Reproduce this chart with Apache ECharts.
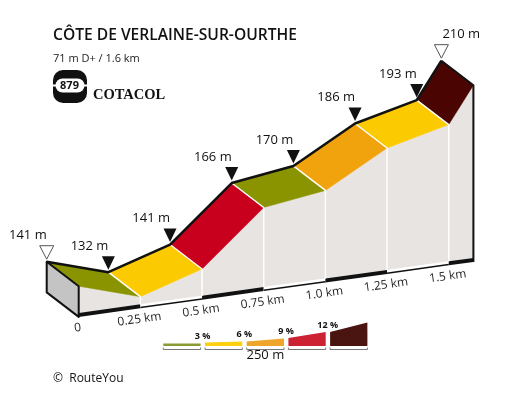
<!DOCTYPE html>
<html><head><meta charset="utf-8">
<script src="https://cdn.jsdelivr.net/npm/echarts@6.0.0/dist/echarts.min.js"></script>
<style>html,body{margin:0;padding:0;background:#fff}#c{width:532px;height:400px}</style>
</head><body><div id="c"></div>
<script>
// ---- data ----
const distances = [0, 0.25, 0.5, 0.75, 1.0, 1.25, 1.5, 1.6];
const elevations = [141, 132, 141, 166, 170, 186, 193, 210];
const segmentClass = [0, 1, 3, 0, 2, 1, 4];
const gradeColors = ['#8a9400', '#fcca00', '#f0a30c', '#c8001e', '#4a0503'];
const legendColors = ['#8b9a33', '#fdd10f', '#eea52a', '#cc2233', '#4a1411'];
const gradeLabels = ['3 %', '6 %', '9 %', '12 %'];
const kmTicks = [0, 0.25, 0.5, 0.75, 1.0, 1.25, 1.5];
const kmTickLabels = ['0', '0.25 km', '0.5 km', '0.75 km', '1.0 km', '1.25 km', '1.5 km'];
const titleText = 'CÔTE DE VERLAINE-SUR-OURTHE';
const subtitleText = '71 m D+ / 1.6 km';
const cotacolNumber = '879';
const cotacolText = 'COTACOL';
const legendScaleLabel = '250 m';
const creditText = '©  RouteYou';

// ---- styles / layout ----
const BASE_ELEV = 126.5;
const DEPTH = [32, 24.5];
const TILT = 0.1394;
const BAND = 4;
const FRONT_FILL = '#e8e4e2';
const SIDE_FILL = '#c4c4c4';
const FONT = '"Open Sans", "Noto Sans", sans-serif';
const LEGEND_WEDGE = [[2.5, 2.5], [3.5, 4.6], [4.6, 7.5], [8, 14], [14, 23.5]];

function P(api, km, elev, front) {
  const p = api.coord([km, elev]);
  const o = api.coord([0, elev]);
  let x = p[0], y = p[1] - TILT * (p[0] - o[0]);
  if (front) { x += DEPTH[0]; y += DEPTH[1]; }
  return [x, y];
}
function up(pt, d) { return [pt[0], pt[1] - d]; }

function renderFaces(params, api) {
  const i = params.dataIndex;
  const k0 = distances[i], k1 = distances[i + 1];
  const e0 = elevations[i], e1 = elevations[i + 1];
  const col = gradeColors[segmentClass[i]];
  const fb0 = P(api, k0, BASE_ELEV, 1), fb1 = P(api, k1, BASE_ELEV, 1);
  const children = [
    {type: 'polygon', shape: {points: [P(api, k0, e0, 1), P(api, k1, e1, 1), up(fb1, BAND), up(fb0, BAND)]},
     style: {fill: FRONT_FILL, stroke: FRONT_FILL, lineWidth: 0.5}},
    {type: 'polygon', shape: {points: [P(api, k0, e0, 0), P(api, k1, e1, 0), P(api, k1, e1, 1), P(api, k0, e0, 1)]},
     style: {fill: col, stroke: col, lineWidth: 0.5}},
    {type: 'polygon', shape: {points: [fb0, fb1, up(fb1, BAND), up(fb0, BAND)]},
     style: {fill: i % 2 === 0 ? '#111' : '#fff'}}
  ];
  if (i % 2 === 1) {
    children.push({type: 'line', shape: {x1: fb0[0], y1: fb0[1] - 0.75, x2: fb1[0], y2: fb1[1] - 0.75},
      style: {stroke: '#111', lineWidth: 1.5}});
  }
  return {type: 'group', children};
}

function renderOverlay(params, api) {
  const n = distances.length;
  const ch = [];
  for (let i = 1; i < n - 1; i++) {
    const b = P(api, distances[i], elevations[i], 0);
    const f = P(api, distances[i], elevations[i], 1);
    const fb = up(P(api, distances[i], BASE_ELEV, 1), BAND);
    ch.push({type: 'polyline', shape: {points: [b, f, fb]}, style: {stroke: '#fff', lineWidth: 1.5, fill: null}});
  }
  const b0 = P(api, distances[0], elevations[0], 0), f0 = P(api, distances[0], elevations[0], 1);
  const bb0 = P(api, distances[0], BASE_ELEV, 0), fb0 = P(api, distances[0], BASE_ELEV, 1);
  ch.push({type: 'polygon', shape: {points: [b0, f0, fb0, bb0]},
    style: {fill: SIDE_FILL, stroke: '#111', lineWidth: 2, lineJoin: 'round'}});
  const ridge = distances.map((d, i) => P(api, d, elevations[i], 0));
  ch.push({type: 'polyline', shape: {points: ridge}, style: {stroke: '#111', lineWidth: 2.5, fill: null, lineJoin: 'round'}});
  const bl = ridge[n - 1], fl = P(api, distances[n - 1], elevations[n - 1], 1), fbl = P(api, distances[n - 1], BASE_ELEV, 1);
  ch.push({type: 'polyline', shape: {points: [bl, fl, fbl]}, style: {stroke: '#111', lineWidth: 2, fill: null, lineJoin: 'round'}});
  for (let i = 0; i < n; i++) {
    const p = ridge[i];
    const endPt = (i === 0 || i === n - 1);
    const hw = endPt ? 7 : 6.5;
    ch.push({type: 'polygon', shape: {points: [[p[0] - hw, p[1] - 16], [p[0] + hw, p[1] - 16], [p[0], p[1] - 2.5]]},
      style: endPt ? {fill: '#fff', stroke: '#555', lineWidth: 1} : {fill: '#111'}});
    ch.push({type: 'text', x: i === n - 1 ? p[0] + 1 : p[0], y: p[1] - 26,
      style: {text: elevations[i] + ' m', fill: '#111', fontSize: 13, fontFamily: FONT,
        align: i === n - 1 ? 'left' : 'right', verticalAlign: 'middle'}});
  }
  const rot = Math.atan(TILT);
  kmTicks.forEach((k, j) => {
    const fb = P(api, k, BASE_ELEV, 1);
    ch.push({type: 'text', x: fb[0] - 1, y: fb[1] + 11, rotation: rot,
      style: {text: kmTickLabels[j], fill: '#222', fontSize: 12, fontFamily: FONT, align: 'center', verticalAlign: 'middle'}});
  });
  return {type: 'group', children: ch};
}

const legendGraphics = [];
const LX = 163.3, LW = 37.3, LSTEP = 41.7, LBOT = 346;
legendColors.forEach((c, k) => {
  const x0 = LX + k * LSTEP, x1 = x0 + LW;
  const h = LEGEND_WEDGE[k];
  legendGraphics.push({type: 'polygon', shape: {points: [[x0, LBOT], [x1, LBOT], [x1, LBOT - h[1]], [x0, LBOT - h[0]]]},
    style: {fill: c}});
  legendGraphics.push({type: 'polyline', shape: {points: [[x0, 347.5], [x0, 349.5], [x1, 349.5], [x1, 347.5]]},
    style: {stroke: '#777', lineWidth: 1, fill: null}});
  if (k < gradeLabels.length) {
    legendGraphics.push({type: 'text', x: x1 + 2, y: LBOT - h[1] - 2.5,
      style: {text: gradeLabels[k], fill: '#111', fontSize: 9, fontWeight: 'bold', fontFamily: FONT,
        align: 'center', verticalAlign: 'bottom'}});
  }
});
legendGraphics.push({type: 'text', x: LX + 2 * LSTEP + LW / 2, y: 355,
  style: {text: legendScaleLabel, fill: '#111', fontSize: 13, fontFamily: FONT, align: 'center', verticalAlign: 'middle'}});

const headerGraphics = [
  {type: 'text', x: 53, y: 36, style: {text: titleText, fill: '#111', fontSize: 15.6, fontWeight: 600, fontFamily: FONT, verticalAlign: 'middle'}},
  {type: 'text', x: 53, y: 58.5, style: {text: subtitleText, fill: '#222', fontSize: 11, fontFamily: FONT, verticalAlign: 'middle'}},
  {type: 'rect', shape: {x: 53, y: 70, width: 34, height: 33, r: 10}, style: {fill: '#111'}},
  {type: 'rect', shape: {x: 55.5, y: 78.5, width: 29, height: 14, r: 7}, style: {fill: '#fff'}},
  {type: 'rect', shape: {x: 53, y: 84.5, width: 3, height: 2}, style: {fill: '#fff'}},
  {type: 'rect', shape: {x: 84, y: 84.5, width: 3, height: 2}, style: {fill: '#fff'}},
  {type: 'text', x: 69.5, y: 85.5, style: {text: cotacolNumber, fill: '#111', fontSize: 11, fontWeight: 'bold', fontFamily: FONT, align: 'center', verticalAlign: 'middle'}},
  {type: 'text', x: 93, y: 95, style: {text: cotacolText, fill: '#111', fontSize: 14.5, fontWeight: 'bold', fontFamily: '"Liberation Serif", serif', verticalAlign: 'middle'}},
  {type: 'text', x: 53, y: 379, style: {text: creditText, fill: '#111', fontSize: 12, fontFamily: FONT, verticalAlign: 'middle'}}
];

const chart = echarts.init(document.getElementById('c'));
chart.setOption({
  animation: false,
  grid: {left: 46.7, top: 115.7, width: 394.7, height: 176.7},
  xAxis: {type: 'value', min: 0, max: distances[distances.length - 1], show: false},
  yAxis: {type: 'value', min: BASE_ELEV, max: elevations[elevations.length - 1], show: false},
  graphic: headerGraphics.concat(legendGraphics).map(g => Object.assign({silent: true}, g)),
  series: [
    {type: 'custom', silent: true, z: 2, renderItem: renderFaces,
     data: distances.slice(0, -1).map((d, i) => [d, elevations[i]])},
    {type: 'custom', silent: true, z: 3, renderItem: renderOverlay, data: [[0, elevations[0]]]}
  ]
});
</script></body></html>
